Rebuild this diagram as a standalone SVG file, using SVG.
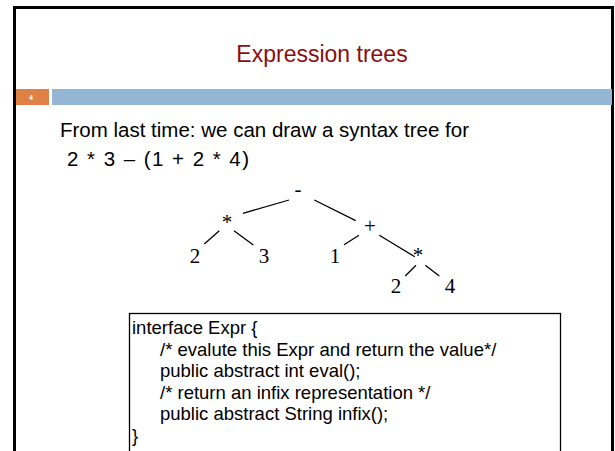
<svg xmlns="http://www.w3.org/2000/svg" width="615" height="451" viewBox="0 0 615 451">
  <style>
    .title { font-family: "Liberation Sans", Arial, sans-serif; font-size: 23px; fill: #8B0E0E; }
    .body { font-family: "Liberation Sans", Arial, sans-serif; font-size: 20.5px; fill: #000; }
    .code { font-family: "Liberation Sans", Arial, sans-serif; font-size: 18.5px; fill: #000; }
    .node text { font-family: "Liberation Serif", "Times New Roman", serif; font-size: 21px; fill: #000; text-anchor: middle; }
    .edges line { stroke: #000; stroke-width: 1.3; }
  </style>
  <rect width="615" height="451" fill="#fff"/>
  <!-- slide frame -->
  <rect x="14.5" y="7.5" width="598" height="460" fill="none" stroke="#000" stroke-width="3"/>
  <text class="title" x="322" y="62" text-anchor="middle">Expression trees</text>
  <!-- header band -->
  <rect x="16" y="89" width="33" height="16" fill="#DF8146"/>
  <rect x="52" y="89" width="560" height="16" fill="#95B6D3"/>
  <text x="31" y="100" font-family="Liberation Sans, sans-serif" font-size="7" font-weight="bold" fill="#fff" text-anchor="middle">4</text>

  <text class="body" x="60" y="137">From last time: we can draw a syntax tree for</text>
  <text class="body" x="67" y="166" textLength="182" lengthAdjust="spacing">2 * 3 – (1 + 2 * 4)</text>

  <!-- tree edges -->
  <g id="edges" class="edges">
    <line x1="243" y1="213.3" x2="289" y2="200"/>
    <line x1="314.3" y1="200" x2="355.7" y2="220.7"/>
    <line x1="204.3" y1="244" x2="219.3" y2="230.7"/>
    <line x1="234" y1="230.7" x2="253.3" y2="245"/>
    <line x1="344" y1="244.7" x2="359" y2="235.3"/>
    <line x1="379.3" y1="235.3" x2="414.7" y2="256.7"/>
    <line x1="405.3" y1="276" x2="416" y2="265.3"/>
    <line x1="425.3" y1="265.3" x2="439.3" y2="276"/>
  </g>

  <!-- tree nodes -->
  <g id="n-minus" class="node"><text x="298" y="196">-</text></g>
  <g id="n-mul1" class="node"><text x="227" y="229">*</text></g>
  <g id="n-plus" class="node"><text x="370" y="233">+</text></g>
  <g id="n-2a" class="node"><text x="195" y="263">2</text></g>
  <g id="n-3" class="node"><text x="264" y="263">3</text></g>
  <g id="n-1" class="node"><text x="335" y="263">1</text></g>
  <g id="n-mul2" class="node"><text x="418" y="262">*</text></g>
  <g id="n-2b" class="node"><text x="396" y="293">2</text></g>
  <g id="n-4" class="node"><text x="450" y="293">4</text></g>

  <!-- interface listing -->
  <g id="code">
    <rect x="129.5" y="313.5" width="431" height="160" fill="#fff" stroke="#000" stroke-width="1.3"/>
    <text class="code" x="132" y="334">interface Expr {</text>
    <text class="code" x="160" y="355.5">/* evalute this Expr and return the value*/</text>
    <text class="code" x="160" y="377">public abstract int eval();</text>
    <text class="code" x="160" y="398.5">/* return an infix representation */</text>
    <text class="code" x="160" y="420">public abstract String infix();</text>
    <text class="code" x="132" y="441.5">}</text>
  </g>
</svg>
